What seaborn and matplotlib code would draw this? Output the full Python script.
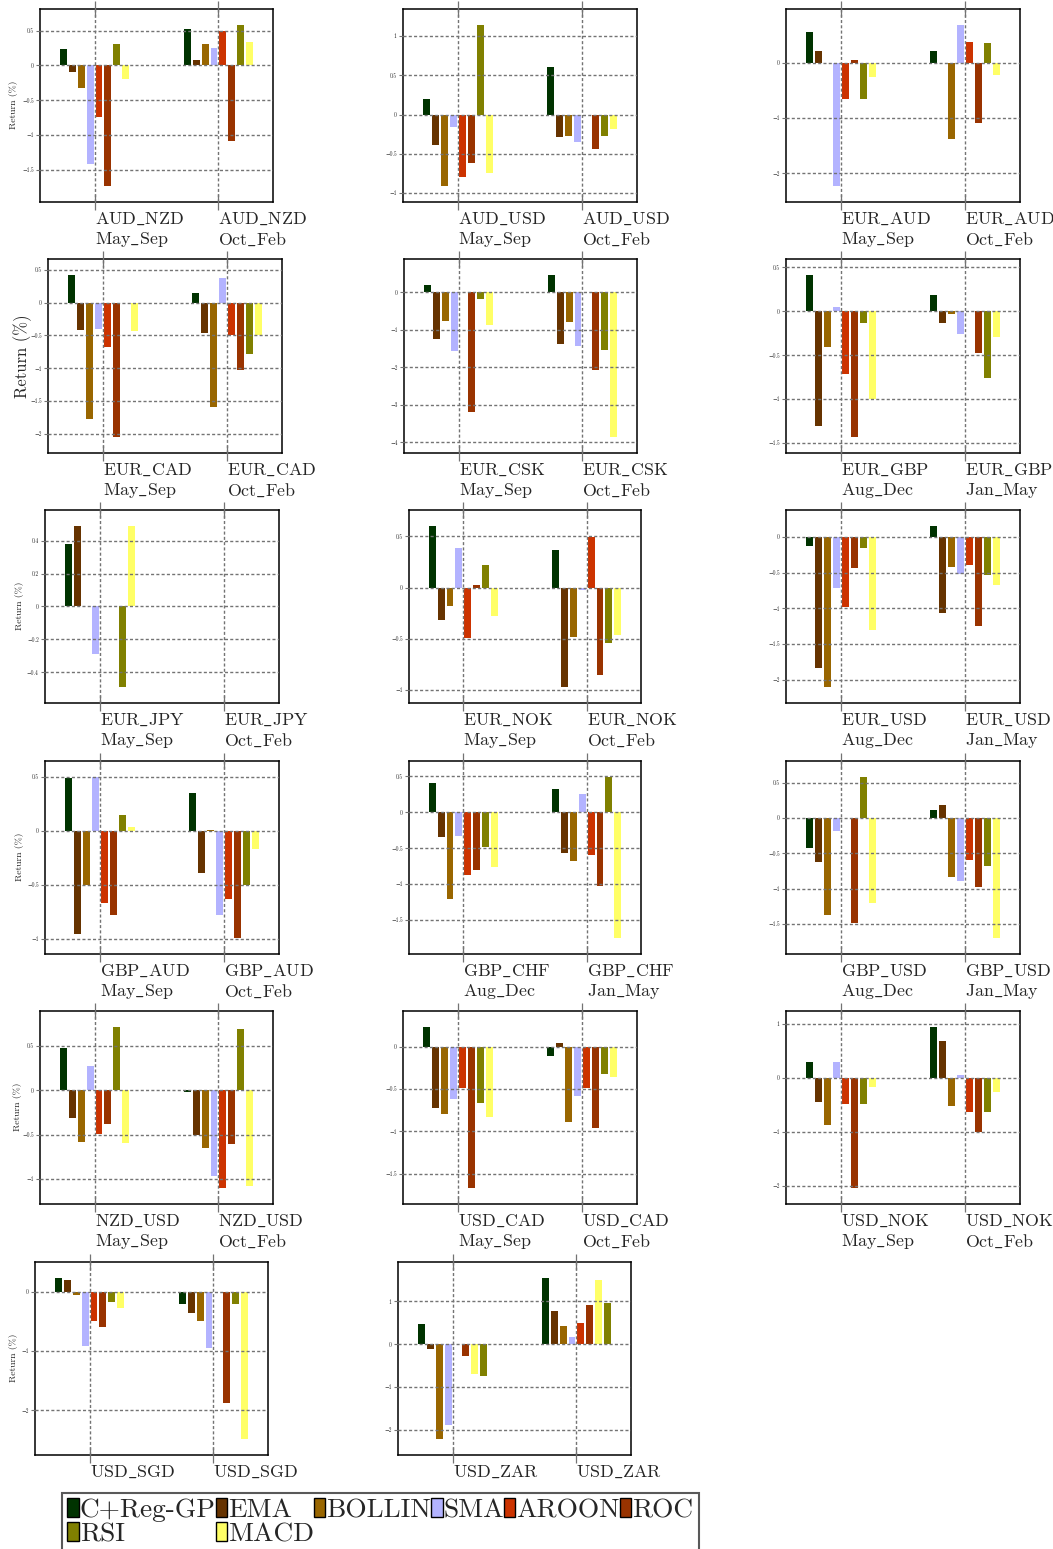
import numpy as np
import pandas as pd
import matplotlib
matplotlib.use('Agg')
import matplotlib.pyplot as plt
import matplotlib.transforms as mtransforms
from matplotlib.patches import Patch
from matplotlib.ticker import MaxNLocator, FuncFormatter
import seaborn as sns

# ---- data (order of each inner list follows `methods`) ----
methods = ['C+Reg-GP', 'EMA', 'BOLLIN', 'SMA', 'AROON', 'ROC', 'RSI', 'MACD']
colors = ['#003300', '#663300', '#996600', '#b3b3ff', '#cc3300', '#993300', '#808000', '#ffff66']

pairs = ['AUD_NZD', 'AUD_USD', 'EUR_AUD', 'EUR_CAD', 'EUR_CSK', 'EUR_GBP',
         'EUR_JPY', 'EUR_NOK', 'EUR_USD', 'GBP_AUD', 'GBP_CHF', 'GBP_USD',
         'NZD_USD', 'USD_CAD', 'USD_NOK', 'USD_SGD', 'USD_ZAR']
periods = [('May_Sep', 'Oct_Feb'), ('May_Sep', 'Oct_Feb'), ('May_Sep', 'Oct_Feb'),
           ('May_Sep', 'Oct_Feb'), ('May_Sep', 'Oct_Feb'), ('Aug_Dec', 'Jan_May'),
           ('May_Sep', 'Oct_Feb'), ('May_Sep', 'Oct_Feb'), ('Aug_Dec', 'Jan_May'),
           ('May_Sep', 'Oct_Feb'), ('Aug_Dec', 'Jan_May'), ('Aug_Dec', 'Jan_May'),
           ('May_Sep', 'Oct_Feb'), ('May_Sep', 'Oct_Feb'), ('May_Sep', 'Oct_Feb'),
           (None, None), (None, None)]

aud_nzd = [[0.24, -0.09, -0.32, -1.41, -0.74, -1.73, 0.31, -0.20],
           [0.53, 0.08, 0.31, 0.25, 0.49, -1.09, 0.58, 0.33]]
aud_usd = [[0.20, -0.39, -0.91, -0.16, -0.79, -0.62, 1.14, -0.74],
           [0.61, -0.29, -0.27, -0.35, 0.0, -0.44, -0.28, -0.18]]
eur_aud = [[0.55, 0.22, 0.0, -2.23, -0.66, 0.04, -0.66, -0.26],
           [0.22, 0.0, -1.39, 0.68, 0.37, -1.10, 0.35, -0.22]]
eur_cad = [[0.42, -0.42, -1.77, -0.40, -0.68, -2.05, 0.0, -0.43],
           [0.15, -0.46, -1.59, 0.37, -0.49, -1.03, -0.79, -0.50]]
eur_csk = [[0.21, -1.24, -0.76, -1.56, 0.0, -3.20, -0.17, -0.87],
           [0.46, -1.37, -0.80, -1.42, 0.0, -2.06, -1.54, -3.85]]
eur_gbp = [[0.41, -1.31, -0.41, 0.05, -0.71, -1.43, -0.13, -1.00],
           [0.18, -0.13, -0.03, -0.26, 0.0, -0.48, -0.76, -0.29]]
eur_jpy = [[0.38, 0.49, 0.0, -0.29, 0.0, 0.0, -0.49, 0.49],
           [0.0, 0.0, 0.0, 0.0, 0.0, 0.0, 0.0, 0.0]]
eur_nok = [[0.60, -0.32, -0.18, 0.39, -0.49, 0.02, 0.22, -0.28],
           [0.37, -0.97, -0.48, -0.02, 0.49, -0.85, -0.54, -0.46]]
eur_usd = [[-0.13, -1.84, -2.10, -0.72, -0.98, -0.43, -0.15, -1.31],
           [0.15, -1.07, -0.42, -0.52, -0.39, -1.25, -0.54, -0.68]]
gbp_aud = [[0.49, -0.95, -0.50, 0.50, -0.67, -0.78, 0.15, 0.04],
           [0.35, -0.39, 0.01, -0.78, -0.63, -0.99, -0.50, -0.17]]
gbp_chf = [[0.41, -0.35, -1.21, -0.33, -0.88, -0.81, -0.49, -0.76],
           [0.33, -0.57, -0.68, 0.26, -0.59, -1.02, 0.49, -1.75]]
gbp_usd = [[-0.42, -0.63, -1.37, -0.18, 0.0, -1.49, 0.58, -1.20],
           [0.12, 0.18, -0.84, -0.89, -0.59, -0.98, -0.68, -1.70]]
nzd_usd = [[0.47, -0.31, -0.58, 0.27, -0.49, -0.38, 0.71, -0.59],
           [-0.02, -0.51, -0.65, -0.97, -1.10, -0.61, 0.69, -1.08]]
usd_cad = [[0.23, -0.72, -0.80, -0.62, -0.49, -1.67, -0.67, -0.83],
           [-0.11, 0.04, -0.89, -0.59, -0.49, -0.96, -0.32, -0.36]]
usd_nok = [[0.29, -0.44, -0.88, 0.30, -0.49, -2.04, -0.48, -0.17],
           [0.94, 0.69, -0.53, 0.05, -0.63, -1.00, -0.64, -0.27]]
usd_sgd = [[0.23, 0.20, -0.05, -0.92, -0.49, -0.59, -0.18, -0.27],
           [-0.21, -0.35, -0.50, -0.94, 0.0, -1.87, -0.21, -2.48]]
usd_zar = [[0.46, -0.12, -2.21, -1.88, 0.0, -0.27, -0.74, -0.69],
           [1.54, 0.78, 0.43, 0.16, 0.50, 0.92, 0.95, 1.50]]

returns = [aud_nzd, aud_usd, eur_aud, eur_cad, eur_csk, eur_gbp, eur_jpy, eur_nok,
           eur_usd, gbp_aud, gbp_chf, gbp_usd, nzd_usd, usd_cad, usd_nok, usd_sgd, usd_zar]

# USD_ZAR draws MACD before RSI
bar_orders = {'USD_ZAR': ['C+Reg-GP', 'EMA', 'BOLLIN', 'SMA', 'AROON', 'ROC', 'MACD', 'RSI']}

# ---- layout (pixel boxes: left, top, right, bottom) ----
W, H = 1053, 1549
boxes = [(40, 9, 273, 202), (403, 9, 637, 202), (786, 9, 1020, 202),
         (48, 259, 282, 453), (404, 259, 637, 453), (786, 259, 1020, 453),
         (45, 510, 279, 703), (409, 510, 641, 703), (786, 510, 1020, 703),
         (45, 761, 279, 954), (409, 761, 641, 954), (786, 761, 1020, 954),
         (40, 1011, 273, 1204), (403, 1011, 637, 1204), (786, 1011, 1020, 1204),
         (35, 1262, 268, 1455), (398, 1262, 631, 1455)]
# y-label (x, y, fontsize) for the left column
ylabels = {0: (13, 105, 7), 3: (23, 356, 12), 6: (20, 606, 7),
           9: (20, 857, 7), 12: (17, 1107, 7), 15: (13, 1358, 7)}

sns.set_style('white')
plt.rcParams['font.family'] = ['cmr10', 'DejaVu Serif']
plt.rcParams['mathtext.fontset'] = 'cm'
plt.rcParams['axes.formatter.use_mathtext'] = True
plt.rcParams['axes.axisbelow'] = False

fig = plt.figure(figsize=(W / 100, H / 100), dpi=100)
palette = dict(zip(methods, colors))
shift = mtransforms.ScaledTranslation(-5 / 100, 0, fig.dpi_scale_trans)
fmt = FuncFormatter(lambda v, p: f'{v:g}'.replace('-', '\u2212'))

for i, pair in enumerate(pairs):
    l, t, r, b = boxes[i]
    ax = fig.add_axes([l / W, 1 - b / H, (r - l) / W, (b - t) / H])
    vals = returns[i]
    df = pd.DataFrame({'grp': np.repeat(['g0', 'g1'], len(methods)),
                       'method': methods * 2,
                       'ret': np.concatenate(vals)})
    sns.barplot(data=df, x='grp', y='ret', hue='method',
                hue_order=bar_orders.get(pair, methods), palette=palette,
                width=0.576, gap=0.22, saturation=1, errorbar=None,
                linewidth=0, legend=False, ax=ax)

    lo, hi = df['ret'].min(), df['ret'].max()
    pad = 0.1 * (hi - lo)
    ax.set_ylim(lo - pad, hi + pad)
    ax.set_xlim(-0.44, 1.44)
    ax.set_xlabel('')
    ax.set_ylabel('')

    p0, p1 = periods[i]
    mpair = pair.replace('_', r'\_')
    if p0 is None:
        labels = [rf'$\mathrm{{{mpair}}}$'] * 2
    else:
        labels = [rf'$\mathrm{{{mpair}}}$' + '\n' + rf'$\mathrm{{{p.replace("_", r"\_")}}}$'
                  for p in (p0, p1)]
    ax.set_xticks([0, 1])
    ax.set_xticklabels(labels, fontsize=12.9, ha='left', linespacing=1.25)
    for lbl in ax.get_xticklabels():
        lbl.set_transform(lbl.get_transform() + shift)

    ax.yaxis.set_major_locator(MaxNLocator(nbins=6, steps=[1, 2, 5, 10]))
    ax.yaxis.set_major_formatter(fmt)
    ax.grid(True, ls=(0, (2.2, 1.6)), color='0.45', lw=1.0)
    ax.tick_params(axis='x', direction='inout', length=12, width=0.9, color='0.45',
                   bottom=True, top=True, pad=0)
    ax.tick_params(axis='y', direction='out', length=3, width=0.8, color='0.45',
                   left=True, labelsize=4, pad=1.5)
    for s in ax.spines.values():
        s.set_color('black')
        s.set_linewidth(1.1)

    if i in ylabels:
        x, y, fs = ylabels[i]
        fig.text(x / W, 1 - y / H, 'Return (%)', rotation=90, ha='center',
                 va='center', fontsize=fs)

handles = [Patch(facecolor=c, edgecolor='black', linewidth=1.0) for c in colors]
leg_order = [0, 6, 1, 7, 2, 3, 4, 5]
leg = fig.legend([handles[k] for k in leg_order], [methods[k] for k in leg_order],
                 ncol=6, loc='upper left', bbox_to_anchor=(62 / W, 1 - 1493 / H),
                 fontsize=19.7, handlelength=0.42, handleheight=0.66,
                 handletextpad=0.03, columnspacing=0.0, labelspacing=0.0,
                 borderpad=0.2, borderaxespad=0, frameon=True, fancybox=False,
                 edgecolor='0.35', framealpha=1)
leg.get_frame().set_linewidth(1.5)

fig.savefig('out.png', dpi=100)
